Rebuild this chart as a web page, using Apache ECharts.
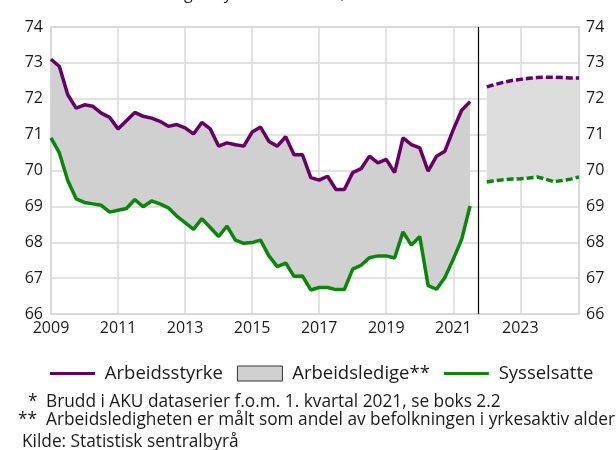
<!DOCTYPE html>
<html>
<head>
<meta charset="utf-8">
<script src="https://cdn.jsdelivr.net/npm/echarts@6/dist/echarts.min.js"></script>
<style>
  html, body { margin: 0; padding: 0; background: #fff; }
  #chart { width: 616px; height: 450px; }
</style>
</head>
<body>
<div id="chart"></div>
<script>
// quarterly figures, 2009 K1 - 2021 K3
const arbeidsstyrke = [73.10, 72.90, 72.11, 71.74, 71.83, 71.79, 71.60, 71.48, 71.16, 71.39,
    71.62, 71.51, 71.46, 71.37, 71.23, 71.28, 71.19, 71.02, 71.34, 71.16,
    70.68, 70.77, 70.72, 70.68, 71.07, 71.21, 70.81, 70.68, 70.94, 70.44,
    70.44, 69.80, 69.73, 69.84, 69.47, 69.47, 69.94, 70.05, 70.40, 70.21,
    70.31, 69.94, 70.91, 70.72, 70.63, 69.98, 70.40, 70.54, 71.14, 71.68, 71.92];
const sysselsatte = [70.91, 70.49, 69.72, 69.21, 69.11, 69.07, 69.03, 68.84, 68.89, 68.94,
    69.19, 68.99, 69.15, 69.07, 68.96, 68.73, 68.55, 68.36, 68.66, 68.41,
    68.16, 68.45, 68.06, 67.97, 67.99, 68.06, 67.62, 67.32, 67.42, 67.05,
    67.06, 66.67, 66.74, 66.74, 66.68, 66.68, 67.25, 67.36, 67.57, 67.62,
    67.62, 67.56, 68.29, 67.92, 68.16, 66.79, 66.69, 67.02, 67.53, 68.08, 69.01];
// projections, 2022 K1 - 2024 K4
const arbeidsstyrkeProg = [72.33, 72.40, 72.46, 72.51, 72.54, 72.57, 72.59, 72.60, 72.60, 72.59, 72.58, 72.58];
const sysselsatteProg = [69.68, 69.72, 69.74, 69.76, 69.77, 69.79, 69.82, 69.76, 69.69, 69.72, 69.76, 69.82];

const firstYear = 2009;
const lastYear = 2024;
const breakQuarter = '2021K4';

const purple = '#660066';
const green = '#0a870a';

let quarters = [];
for (let y = firstYear; y <= lastYear; y++) {
    for (let q = 1; q <= 4; q++) quarters.push(y + 'K' + q);
}
const progStart = quarters.indexOf('2022K1');

function padHist(arr) {
    return quarters.map((q, i) => (i < arr.length ? arr[i] : null));
}
function padProg(arr) {
    return quarters.map((q, i) => (i >= progStart && i - progStart < arr.length ? arr[i - progStart] : null));
}
function diff(a, b) {
    return a.map((v, i) => (v === null || b[i] === null ? null : +(v - b[i]).toFixed(2)));
}

const styrkeH = padHist(arbeidsstyrke);
const syssH = padHist(sysselsatte);
const styrkeP = padProg(arbeidsstyrkeProg);
const syssP = padProg(sysselsatteProg);

function isLabelQuarter(index) {
    const q = quarters[index];
    return q.endsWith('K1') && (parseInt(q) - firstYear) % 2 === 0;
}

const chart = echarts.init(document.getElementById('chart'));
const font = 'Open Sans';
const textColor = '#1a1a1a';
const lineIcon = 'path://M0,0H45V3H0Z';
const noteFont = '17.3px "Open Sans"';

const option = {
    animation: false,
    textStyle: { fontFamily: font },
    title: {
        text: 'Prosent av befolkningen i yrkesaktiv alder, 15-74 år*',
        left: 26,
        top: -19,
        textStyle: { fontSize: 16, fontWeight: 'normal', color: textColor, fontFamily: font }
    },
    grid: {
        left: 51, right: 37, top: 27, bottom: 136,
        show: true, borderColor: '#cccccc', borderWidth: 1.5
    },
    legend: {
        left: 50,
        top: 364,
        padding: 0,
        itemWidth: 45,
        itemHeight: 15,
        itemGap: 14,
        formatter: (name) => ' ' + name,
        textStyle: { fontSize: 18.5, color: textColor, fontFamily: font },
        data: [
            { name: 'Arbeidsstyrke', icon: lineIcon },
            { name: 'Arbeidsledige**', icon: 'rect', itemStyle: { color: '#d0d0d0', borderColor: '#333', borderWidth: 1 } },
            { name: 'Sysselsatte', icon: lineIcon }
        ]
    },
    xAxis: {
        type: 'category',
        data: quarters,
        boundaryGap: false,
        axisLine: { show: false },
        axisTick: { show: false },
        axisLabel: {
            interval: (i) => isLabelQuarter(i),
            formatter: (v) => v.slice(0, 4),
            fontSize: 16,
            color: textColor,
            margin: 6
        },
        splitLine: {
            show: true,
            interval: (i) => isLabelQuarter(i),
            lineStyle: { color: '#d9d9d9', width: 1.5 }
        }
    },
    yAxis: [
        {
            type: 'value', min: 66, max: 74, interval: 1,
            axisLine: { show: false }, axisTick: { show: false },
            axisLabel: { fontSize: 16, color: textColor, margin: 8 },
            splitLine: { lineStyle: { color: '#d9d9d9', width: 1.5 } }
        },
        {
            type: 'value', min: 66, max: 74, interval: 1, position: 'right',
            axisLine: { show: false }, axisTick: { show: false },
            axisLabel: { fontSize: 16, color: textColor, margin: 7 },
            splitLine: { show: false }
        }
    ],
    series: [
        {
            name: 'baseH', type: 'line', stack: 'hist', data: syssH,
            symbol: 'none', lineStyle: { opacity: 0 }, silent: true, z: 1
        },
        {
            name: 'Arbeidsledige**', type: 'line', stack: 'hist', data: diff(styrkeH, syssH),
            symbol: 'none', lineStyle: { opacity: 0 }, silent: true, z: 1,
            itemStyle: { color: '#d0d0d0', borderColor: '#333', borderWidth: 1 },
            areaStyle: { color: '#d0d0d0', opacity: 1 }
        },
        {
            name: 'baseP', type: 'line', stack: 'prog', data: syssP,
            symbol: 'none', lineStyle: { opacity: 0 }, silent: true, z: 1
        },
        {
            name: 'ledigeP', type: 'line', stack: 'prog', data: diff(styrkeP, syssP),
            symbol: 'none', lineStyle: { opacity: 0 }, silent: true, z: 1,
            areaStyle: { color: '#dcdcdc', opacity: 1 }
        },
        {
            name: 'Arbeidsstyrke', type: 'line', data: styrkeH, symbol: 'none', z: 3,
            itemStyle: { color: purple },
            lineStyle: { color: purple, width: 3.5 },
            markLine: {
                silent: true, symbol: 'none', label: { show: false },
                lineStyle: { color: '#000', width: 1.2, type: 'solid' },
                data: [{ xAxis: breakQuarter }]
            }
        },
        {
            name: 'Sysselsatte', type: 'line', data: syssH, symbol: 'none', z: 3,
            itemStyle: { color: green },
            lineStyle: { color: green, width: 3.5 }
        },
        {
            name: 'Arbeidsstyrke', type: 'line', data: styrkeP, symbol: 'none', z: 3,
            itemStyle: { color: purple },
            lineStyle: { color: purple, width: 3.5, type: [7, 3] }
        },
        {
            name: 'Sysselsatte', type: 'line', data: syssP, symbol: 'none', z: 3,
            itemStyle: { color: green },
            lineStyle: { color: green, width: 3.5, type: [7, 3] }
        }
    ],
    graphic: [
        { type: 'text', x: 28, y: 402, style: { text: '*', font: noteFont, fill: textColor, verticalAlign: 'middle' } },
        { type: 'text', x: 46, y: 402, style: { text: 'Brudd i AKU dataserier f.o.m. 1. kvartal 2021, se boks 2.2', font: noteFont, fill: textColor, verticalAlign: 'middle' } },
        { type: 'text', x: 18, y: 420, style: { text: '**', font: noteFont, fill: textColor, verticalAlign: 'middle' } },
        { type: 'text', x: 46, y: 420, style: { text: 'Arbeidsledigheten er målt som andel av befolkningen i yrkesaktiv alder', font: noteFont, fill: textColor, verticalAlign: 'middle' } },
        { type: 'text', x: 22, y: 442, style: { text: 'Kilde: Statistisk sentralbyrå', font: noteFont, fill: textColor, verticalAlign: 'middle' } }
    ]
};

chart.setOption(option);
</script>
</body>
</html>
